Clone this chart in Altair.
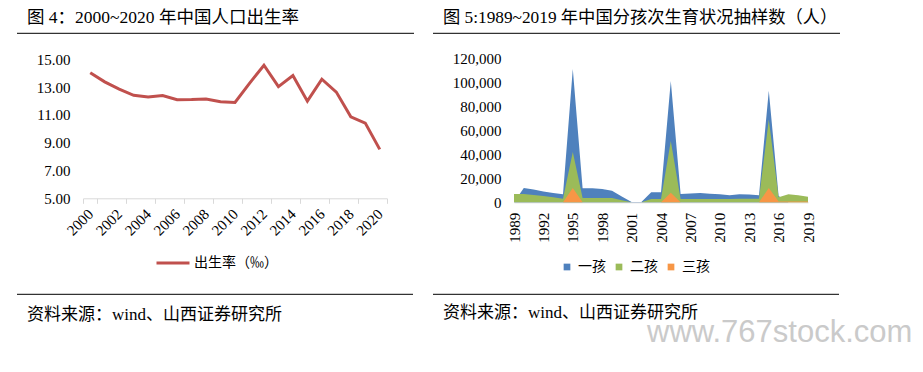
import altair as alt
import pandas as pd

# ---------------- data ----------------
years_l = list(range(2000, 2021))
birth_rate = [14.03, 13.38, 12.86, 12.41, 12.29, 12.40, 12.09, 12.10, 12.14, 11.95, 11.90,
              13.27, 14.57, 13.03, 13.83, 11.99, 13.57, 12.64, 10.86, 10.41, 8.52]

years_r = list(range(1989, 2020))
first_child = [0, 12000, 10600, 9000, 7800, 6700, 111000, 11700, 11700, 11000, 9700,
               4800, 300, 300, 8300, 8300, 101000, 7000, 7300, 7800, 7200,
               6700, 5800, 6700, 6400, 5800, 93000, 5300, 0, 0, 0]
second_child = [6900, 6900, 6100, 5300, 4200, 3000, 42000, 3600, 3600, 3600, 3600,
                1800, 0, 0, 2800, 2800, 51000, 2800, 2800, 2800, 2800,
                2800, 2800, 3000, 3000, 3000, 69000, 4200, 6700, 5800, 4700]
third_child = [0, 0, 0, 0, 0, 0, 12000, 0, 0, 0, 0,
               0, 0, 0, 0, 0, 8000, 0, 0, 0, 0,
               0, 0, 0, 0, 0, 12000, 700, 700, 700, 700]

series_r = ["一孩", "二孩", "三孩"]
colors_r = ["#4f81bd", "#9bbb59", "#f79646"]
line_name = "出生率（‰）"
line_color = "#c0504d"

title_l = "图 4：2000~2020 年中国人口出生率"
title_r = "图 5:1989~2019 年中国分孩次生育状况抽样数（人）"
source_txt = "资料来源：wind、山西证券研究所"
watermark = "www.767stock.com"

SERIF = "Liberation Serif, Noto Sans CJK SC"
CJK = "Noto Sans CJK SC"
W, H = 907, 356

# ---------------- left chart ----------------
df_l = pd.DataFrame({"year": years_l, "rate": birth_rate, "series": line_name})
left = alt.Chart(df_l).mark_line(strokeWidth=3).encode(
    x=alt.X("year:O",
            bandPosition=0.5,
            scale=alt.Scale(type="band", range=[75, 379], paddingInner=0, paddingOuter=0),
            axis=alt.Axis(orient="bottom", offset=-(H - 190.3), values=list(range(2000, 2021, 2)),
                          labelAngle=-45, labelFont=SERIF, labelFontSize=15, labelColor="#000",
                          domainColor="#d9d9d9", tickColor="#d9d9d9", tickSize=5, tickBand="extent",
                          labelPadding=3, labelOffset=-5, title=None, grid=False)),
    y=alt.Y("rate:Q",
            scale=alt.Scale(domain=[5, 15], range=[190.3, 51.3], nice=False, zero=False),
            axis=alt.Axis(orient="left", offset=-75, values=[5, 7, 9, 11, 13, 15], format=".2f",
                          labelFont=SERIF, labelFontSize=15, labelColor="#000",
                          domain=False, ticks=False, labelPadding=13, title=None, grid=False)),
    color=alt.Color("series:N", scale=alt.Scale(domain=[line_name], range=[line_color]),
                    legend=alt.Legend(orient="none", legendX=147, legendY=237, title=None,
                                      symbolType="stroke", symbolSize=1089, symbolStrokeWidth=3,
                                      labelFont=CJK, labelFontSize=14, labelColor="#000",
                                      labelOffset=3, padding=0)),
)

# ---------------- right chart ----------------
df_r = pd.DataFrame({
    "year": years_r * 3,
    "value": first_child + second_child + third_child,
    "kind": [series_r[0]] * len(years_r) + [series_r[1]] * len(years_r) + [series_r[2]] * len(years_r),
})

x_r = alt.X("year:Q",
            scale=alt.Scale(domain=[1989, 2019], range=[506, 800], nice=False, zero=False),
            axis=alt.Axis(orient="bottom", offset=-(H - 194.3), values=list(range(1989, 2020, 3)),
                          format="d", labelAngle=-90, labelFont=SERIF, labelFontSize=15,
                          labelColor="#000", domainColor="#d9d9d9", ticks=False,
                          labelPadding=10, title=None, grid=False))
y_r = alt.Y("value:Q",
            stack=None,
            scale=alt.Scale(domain=[0, 120000], range=[194.3, 50.3], nice=False),
            axis=alt.Axis(orient="left", offset=-506, values=list(range(0, 120001, 20000)),
                          format=",.0f", labelFont=SERIF, labelFontSize=15, labelColor="#000",
                          domain=False, ticks=False, labelPadding=13, title=None, grid=False))
c_r = alt.Color("kind:N", scale=alt.Scale(domain=series_r, range=colors_r),
                legend=alt.Legend(orient="none", direction="horizontal", legendX=552, legendY=252,
                                  title=None, symbolType="square", symbolSize=45,
                                  symbolStrokeWidth=0, labelFont=CJK, labelFontSize=14,
                                  labelColor="#000", labelOffset=4, columnPadding=6, padding=0))

areas = [
    alt.Chart(df_r).transform_filter(alt.datum.kind == k).mark_area(opacity=1).encode(
        x=x_r, y=y_r, color=c_r)
    for k in series_r
]
right = alt.layer(*areas)

# ---------------- decorations ----------------
def txt(s, x, y, size, font, color="#000", baseline="middle"):
    return alt.Chart(pd.DataFrame({"t": [s]})).mark_text(
        align="left", baseline=baseline, fontSize=size, font=font, color=color
    ).encode(x=alt.value(x), y=alt.value(y), text="t:N")

def hline(x1, x2, y):
    return alt.Chart(pd.DataFrame({"a": [0]})).mark_rule(color="#000", strokeWidth=1).encode(
        x=alt.value(x1), x2=alt.value(x2), y=alt.value(y))

decor = [
    txt(title_l, 19, 15.3, 17.5, SERIF, baseline="alphabetic"),
    txt(title_r, 435, 15.0, 17.3, SERIF, baseline="alphabetic"),
    hline(9, 406, 25.3),
    hline(425, 832, 25.3),
    hline(9, 405, 286.3),
    hline(425, 831, 286.3),
    txt(source_txt, 19, 306.5, 17, SERIF),
    txt(source_txt, 435, 305, 17, SERIF),
    txt(watermark, 639, 325, 31, "Liberation Sans, DejaVu Sans", "#cacaca"),
]

chart = alt.layer(left, right, *decor).resolve_scale(
    x="independent", y="independent", color="independent"
).properties(
    width=W, height=H, autosize=alt.AutoSizeParams(type="none"), padding=0, background="white"
).configure_view(stroke=None)

chart.save("out.html", embed_options={"renderer": "svg", "actions": False})
